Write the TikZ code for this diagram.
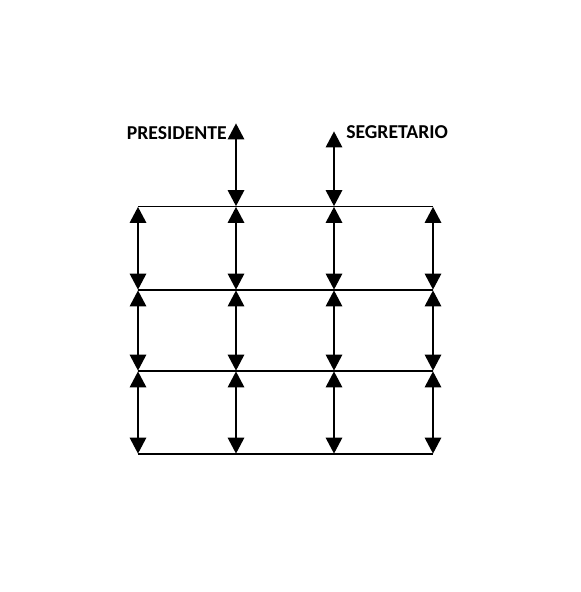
\documentclass[tikz,border=0pt]{standalone}
\usepackage{fontspec}
\setmainfont{Carlito}
\usepackage{tikz}
\usetikzlibrary{arrows.meta}

\tikzset{
    dot/.style={inner sep=0pt, minimum size=0pt},
    arr/.style={{Triangle[length=0.4cm, width=0.4cm]}-{Triangle[length=0.4cm, width=0.4cm]}, line width=2pt},
    floor/.style={line width=0.9pt},
    lbl/.style={font=\fontsize{14}{16}\selectfont\bfseries, inner sep=0pt}
}

\begin{document}
\begin{tikzpicture}[x=0.025cm, y=-0.025cm]
        \useasboundingbox (0, 0) rectangle (580, 592);

        \node [dot] (A1) at (138, 206.5) {};
        \node [dot] (A2) at (236, 206.5) {};
        \node [dot] (A3) at (334, 206.5) {};
        \node [dot] (A4) at (433, 206.5) {};
        \node [dot] (B1) at (138, 290) {};
        \node [dot] (B2) at (236, 290) {};
        \node [dot] (B3) at (334, 290) {};
        \node [dot] (B4) at (433, 290) {};
        \node [dot] (C1) at (138, 371) {};
        \node [dot] (C2) at (236, 371) {};
        \node [dot] (C3) at (334, 371) {};
        \node [dot] (C4) at (433, 371) {};
        \node [dot] (D1) at (138, 454) {};
        \node [dot] (D2) at (236, 454) {};
        \node [dot] (D3) at (334, 454) {};
        \node [dot] (D4) at (433, 454) {};

        \node [dot] (P0) at (236, 123) {};
        \node [dot] (S0) at (334, 131) {};
        \node [lbl, anchor=east] (pres) at (227, 133) {PRESIDENTE};
        \node [lbl, anchor=west] (segr) at (346, 132.5) {SEGRETARIO};

        % piani
        \draw [floor] ([xshift=-0.7pt]A1) -- ([xshift=1.5pt]A4);
        \draw [floor] ([xshift=-0.7pt]B1) -- (B4);
        \draw [floor] ([xshift=-0.7pt]C1) -- (C4);
        \draw [floor] ([xshift=3pt]D1) -- ([xshift=-3pt]D4);

        \draw [arr] (P0) -- (A2);
        \draw [arr] (S0) -- ([yshift=-2.5pt]A3);

        \draw [arr] (A1) -- ([yshift=2pt]B1);
        \draw [arr] (A2) -- ([yshift=2pt]B2);
        \draw [arr] ([yshift=-4pt]A3) -- ([yshift=-1.5pt]B3);
        \draw [arr] (A4) -- ([yshift=2pt]B4);

        \draw [arr] (B1) -- ([yshift=1pt]C1);
        \draw [arr] (B2) -- ([yshift=1pt]C2);
        \draw [arr] ([yshift=-2pt]B3) -- ([yshift=-1pt]C3);
        \draw [arr] (B4) -- ([yshift=1pt]C4);

        \draw [arr] (C1) -- ([yshift=1.5pt]D1);
        \draw [arr] (C2) -- ([yshift=1.5pt]D2);
        \draw [arr] ([yshift=-3pt]C3) -- ([yshift=-2pt]D3);
        \draw [arr] (C4) -- ([yshift=1.5pt]D4);
    \end{tikzpicture}
\end{document}
